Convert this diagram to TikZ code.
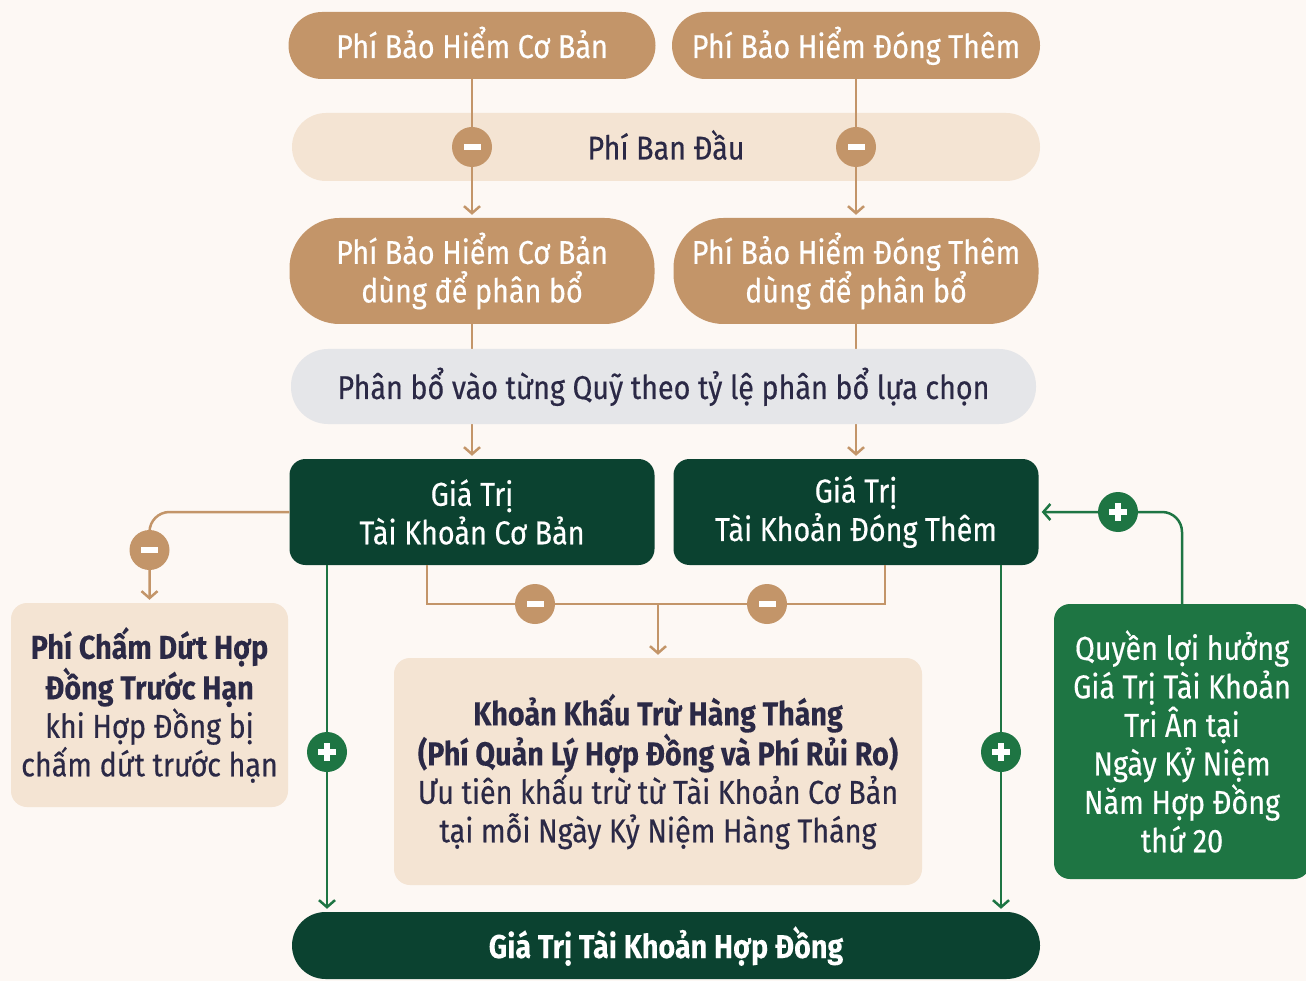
\documentclass[tikz,border=0pt]{standalone}
\usepackage{fontspec}
\setmainfont{Fira Sans}[FakeStretch=0.87,UprightFeatures={FakeBold=0.4},BoldFeatures={FakeBold=0.01}]
\usetikzlibrary{arrows.meta}
\definecolor{tan}{HTML}{C39569}
\definecolor{sand}{HTML}{F4E4D3}
\definecolor{mist}{HTML}{E5E6E9}
\definecolor{pine}{HTML}{0B4230}
\definecolor{leaf}{HTML}{1E7543}
\definecolor{ink}{HTML}{2B2946}
\definecolor{paper}{HTML}{FDF8F4}
\tikzset{
  box/.style={rectangle,align=center,inner sep=0pt},
  oneline/.style={text height=31pt,text depth=6pt},
  minus/.style={circle,fill=tan,minimum size=40pt,inner sep=0pt,
    path picture={\fill[white] ([xshift=-8.5pt,yshift=-3pt]path picture bounding box.center) rectangle ++(17pt,6pt);}},
  plus/.style={circle,fill=leaf,minimum size=40pt,inner sep=0pt,
    path picture={\fill[white] ([xshift=-9pt,yshift=-3pt]path picture bounding box.center) rectangle ++(18pt,6pt);
                  \fill[white] ([xshift=-3pt,yshift=-9pt]path picture bounding box.center) rectangle ++(6pt,18pt);}},
  tanline/.style={draw=tan,line width=2.5pt},
  leafline/.style={draw=leaf,line width=2.5pt},
  barb/.style={-{Straight Barb[length=7pt,width=16pt]},shorten >=3pt}
}
\begin{document}
\begin{tikzpicture}[x=1pt,y=-1pt,font=\fontsize{33}{38.5}\selectfont]
\fill[paper] (0,0) rectangle (1306,981);
\useasboundingbox (0,0) rectangle (1306,981);

\begin{scope}[every node/.style={box,fill=tan,text=white}]
    \node[oneline,minimum width=367pt,minimum height=67pt,rounded corners=33.5pt] (A) at (472,45.5) {Phí Bảo Hiểm Cơ Bản};
    \node[oneline,minimum width=368pt,minimum height=67pt,rounded corners=33.5pt] (B) at (856,45.5) {Phí Bảo Hiểm Đóng Thêm};
    \node[oneline,fill=sand,text=ink,minimum width=748pt,minimum height=68pt,rounded corners=34pt] (F) at (666,147) {Phí Ban Đầu};
    \node[minimum width=365pt,minimum height=106pt,rounded corners=50pt] (A2) at (472,271) {Phí Bảo Hiểm Cơ Bản\\dùng để phân bổ};
    \node[minimum width=365pt,minimum height=106pt,rounded corners=50pt] (B2) at (856,271) {Phí Bảo Hiểm Đóng Thêm\\dùng để phân bổ};
\end{scope}

\begin{scope}[every node/.style={box,fill=pine,text=white,rounded corners=16pt}]
    \node[minimum width=365pt,minimum height=106pt] (C) at (472,512) {Giá Trị\\Tài Khoản Cơ Bản};
    \node[minimum width=365pt,minimum height=106pt] (D) at (856,512) {Giá Trị\\Tài Khoản Đóng Thêm};
    \node[oneline,minimum width=748pt,minimum height=67pt,rounded corners=33.5pt] (V) at (666,945.5) {\textbf{Giá Trị Tài Khoản Hợp Đồng}};
    \node[fill=sand,text=ink,minimum width=277pt,minimum height=204pt] (T) at (149.5,705)
        {\textbf{Phí Chấm Dứt Hợp}\\\textbf{Đồng Trước Hạn}\\khi Hợp Đồng bị\\chấm dứt trước hạn};
    \node[fill=sand,text=ink,minimum width=528pt,minimum height=227pt] (K) at (658,771.5)
        {\textbf{Khoản Khấu Trừ Hàng Tháng}\\\textbf{(Phí Quản Lý Hợp Đồng và Phí Rủi Ro)}\\Ưu tiên khấu trừ từ Tài Khoản Cơ Bản\\tại mỗi Ngày Kỷ Niệm Hàng Tháng};
    \node[fill=leaf,minimum width=256pt,minimum height=275pt] (Q) at (1182,741.5)
        {Quyền lợi hưởng\\Giá Trị Tài Khoản\\Tri Ân tại\\Ngày Kỷ Niệm\\Năm Hợp Đồng\\thứ 20};
\end{scope}

\coordinate (j1) at (427,604);
\coordinate (j2) at (885,604);
\coordinate (g1) at (327,752);
\coordinate (g2) at (1001,752);

\path [tanline,barb] (A) edge (A2);
\path [tanline,barb] (B) edge (B2);
\path [tanline,barb] (A2) edge (C);
\path [tanline,barb] (B2) edge (D);
\draw [tanline] (C.south -| j1) |- (j2) -- (D.south -| j2);
\draw [tanline,barb] (K.north |- j1) -- (K);
\draw [tanline,barb,rounded corners=20pt] (C.west) -| (T.north);
\draw [leafline,barb] (C.south -| g1) -- (V.north -| g1);
\draw [leafline,barb] (D.south -| g2) -- (V.north -| g2);
\draw [leafline,barb,rounded corners=20pt] (Q.north) |- (D.east);

\node[box,oneline,fill=mist,text=ink,minimum width=745pt,minimum height=75pt,rounded corners=37pt] (P) at (663.5,386.5)
    {Phân bổ vào từng Quỹ theo tỷ lệ phân bổ lựa chọn};

\node[minus] (m1) at (A |- F) {};
\node[minus] (m2) at (B |- F) {};
\node[minus] (m3) at (535,604) {};
\node[minus] (m4) at (767,604) {};
\node[minus] (m5) at (T.north |- 0,550) {};
\node[plus] (p1) at (g1) {};
\node[plus] (p2) at (g2) {};
\node[plus] (p3) at (1118,512) {};
\end{tikzpicture}
\end{document}
